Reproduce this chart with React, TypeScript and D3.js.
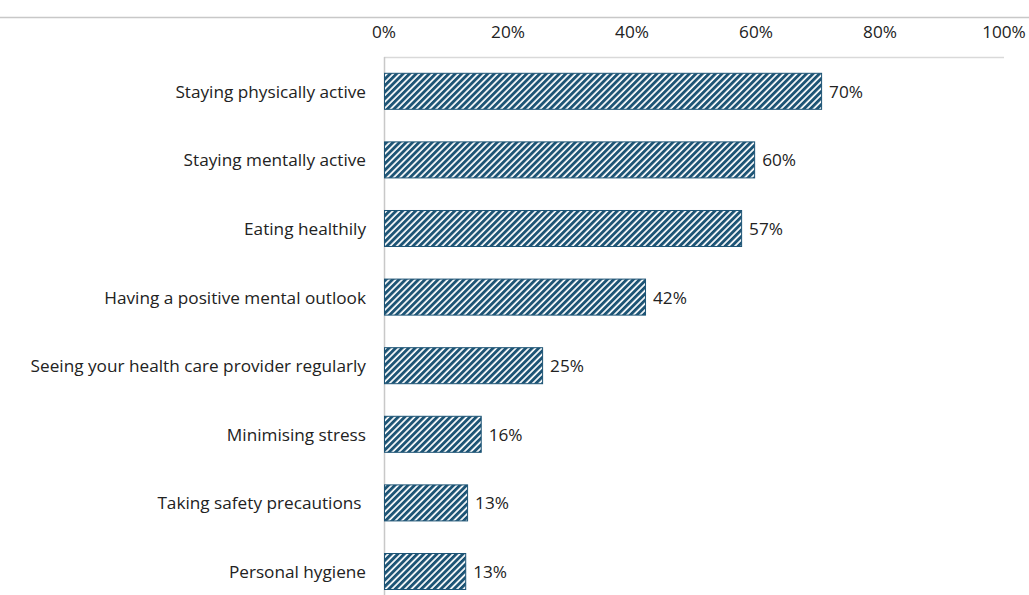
import React from "react";
import * as d3 from "d3";

const categories = [
  "Staying physically active",
  "Staying mentally active",
  "Eating healthily",
  "Having a positive mental outlook",
  "Seeing your health care provider regularly",
  "Minimising stress",
  "Taking safety precautions ",
  "Personal hygiene",
];
const values = [0.705, 0.597, 0.576, 0.421, 0.255, 0.156, 0.134, 0.131];
const valueLabels = ["70%", "60%", "57%", "42%", "25%", "16%", "13%", "13%"];
const ticks = [0, 0.2, 0.4, 0.6, 0.8, 1.0];

const W = 1029;
const H = 595;
const FONT = "'Open Sans', sans-serif";
const FS = 17.2;
const BLUE = "#1d5475";

export default function App() {
  const x = d3.scaleLinear().domain([0, 1]).range([384, 1004]);
  const y = d3
    .scaleBand<string>()
    .domain(categories)
    .range([57, 57 + 8 * 68.6])
    .paddingInner(0.475)
    .paddingOuter(0.2375);
  const fmt = d3.format(".0%");
  return (
    <svg
      width={W}
      height={H}
      style={{ position: "absolute", left: 0, top: 0, background: "#fff" }}
    >
      <defs>
        <pattern
          id="hatch"
          patternUnits="userSpaceOnUse"
          width={4.6}
          height={4.6}
          patternTransform="rotate(45)"
        >
          <rect x={0} y={0} width={4.6} height={4.6} fill="#ffffff" />
          <rect x={0} y={0} width={2.9} height={4.6} fill={BLUE} />
        </pattern>
      </defs>
      <line x1={0} x2={W} y1={17.5} y2={17.5} stroke="#c8c8c8" strokeWidth={1.5} />
      <line x1={384} x2={1004} y1={57.5} y2={57.5} stroke="#d9d9d9" strokeWidth={1.5} />
      <line x1={384.5} x2={384.5} y1={57} y2={H} stroke="#c8c8c8" strokeWidth={1.5} />
      {ticks.map((t) => (
        <text
          key={t}
          x={x(t)}
          y={31}
          textAnchor="middle"
          dominantBaseline="central"
          fontFamily={FONT}
          fontSize={FS}
          fill="#222"
        >
          {fmt(t)}
        </text>
      ))}
      {categories.map((c, i) => {
        const by = y(c)!;
        const bh = y.bandwidth();
        return (
          <g key={c}>
            <text
              x={366}
              y={by + bh / 2}
              textAnchor="end"
              dominantBaseline="central"
              fontFamily={FONT}
              fontSize={FS}
              fill="#222"
              style={{ whiteSpace: "pre" }}
            >
              {c}
            </text>
            <rect
              x={x(0) + 0.5}
              y={by}
              width={x(values[i]) - x(0)}
              height={bh}
              fill="url(#hatch)"
              stroke={BLUE}
              strokeWidth={1}
            />
            <text
              x={x(values[i]) + 8}
              y={by + bh / 2}
              dominantBaseline="central"
              fontFamily={FONT}
              fontSize={FS}
              fill="#222"
            >
              {valueLabels[i]}
            </text>
          </g>
        );
      })}
    </svg>
  );
}
